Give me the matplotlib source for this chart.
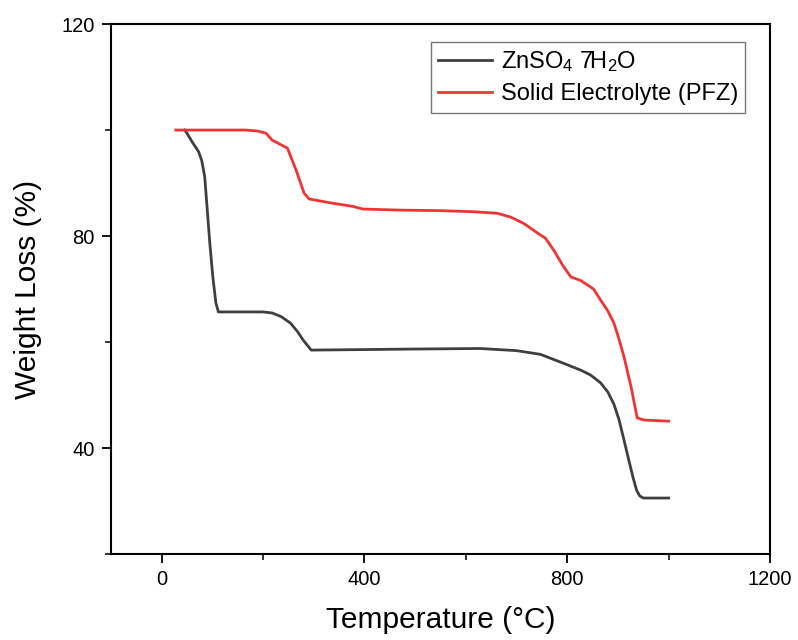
import numpy as np
import matplotlib
matplotlib.use('Agg')
import matplotlib.pyplot as plt
from matplotlib.ticker import MultipleLocator

plt.rcParams['font.family'] = ['Liberation Sans', 'DejaVu Sans']
plt.rcParams['mathtext.fontset'] = 'custom'
plt.rcParams['mathtext.rm'] = 'Liberation Sans'
plt.rcParams['mathtext.it'] = 'Liberation Sans'

# ZnSO4 7H2O
t_zn = [45, 48, 60, 73, 79, 85, 89, 95, 101, 107, 112, 150, 200, 218, 236, 254, 268, 279, 295,
        400, 500, 628, 700, 747, 793, 827, 846, 866, 880, 892, 902, 912, 922, 930, 937, 943, 950, 1000]
w_zn = [100, 99.7, 97.8, 95.9, 94.3, 91.2, 86.2, 78.7, 72.3, 67.4, 65.7, 65.7, 65.7, 65.5, 64.8, 63.6, 62.0, 60.4, 58.5,
        58.6, 58.7, 58.8, 58.4, 57.7, 56.0, 54.7, 53.8, 52.3, 50.6, 48.3, 45.4, 41.5, 37.5, 34.4, 32.0, 31.0, 30.6, 30.6]

# Solid Electrolyte (PFZ)
t_pfz = [28, 100, 166, 190, 206, 218, 232, 248, 265, 281, 291, 337, 377, 397, 470, 549, 614, 662, 688,
         714, 741, 757, 773, 791, 807, 827, 852, 866, 880, 892, 902, 912, 926, 938, 952, 1000]
w_pfz = [100, 100, 100, 99.8, 99.4, 98.1, 97.4, 96.6, 92.5, 88.1, 87.0, 86.2, 85.6, 85.1, 84.9, 84.8, 84.6, 84.3, 83.6,
         82.4, 80.6, 79.6, 77.4, 74.5, 72.3, 71.6, 70.0, 67.9, 65.9, 63.6, 60.6, 57.2, 51.5, 45.7, 45.3, 45.1]

fig = plt.figure(figsize=(7.98, 6.4), dpi=100)
ax = fig.add_axes([0.139, 0.134, 0.826, 0.8285])

ax.plot(t_zn, w_zn, color='#3f3f3f', lw=2.0, label=r'ZnSO$_4$ 7H$_2$O')
ax.plot(t_pfz, w_pfz, color='#f03434', lw=2.0, label='Solid Electrolyte (PFZ)')

ax.set_xlim(-100, 1200)
ax.set_ylim(20, 120)
ax.xaxis.set_major_locator(MultipleLocator(400))
ax.xaxis.set_minor_locator(MultipleLocator(200))
ax.yaxis.set_major_locator(MultipleLocator(40))
ax.yaxis.set_minor_locator(MultipleLocator(20))
ax.tick_params(which='major', direction='out', length=6.5, width=1.3, labelsize=14.5, pad=5)
ax.tick_params(which='minor', direction='out', length=4, width=1.1)
for s in ax.spines.values():
    s.set_linewidth(1.5)

ax.set_xlabel('Temperature (°C)', fontsize=21.5, labelpad=12)
ax.set_ylabel('Weight Loss (%)', fontsize=21.5, labelpad=14)

leg = ax.legend(loc='upper right', bbox_to_anchor=(0.962, 0.966), fontsize=17, fancybox=False,
                edgecolor='#555555', handlelength=2.3, handletextpad=0.35, borderpad=0.3,
                labelspacing=0.4, borderaxespad=0)
leg.get_frame().set_linewidth(1.0)

fig.savefig('out.png', dpi=100)
